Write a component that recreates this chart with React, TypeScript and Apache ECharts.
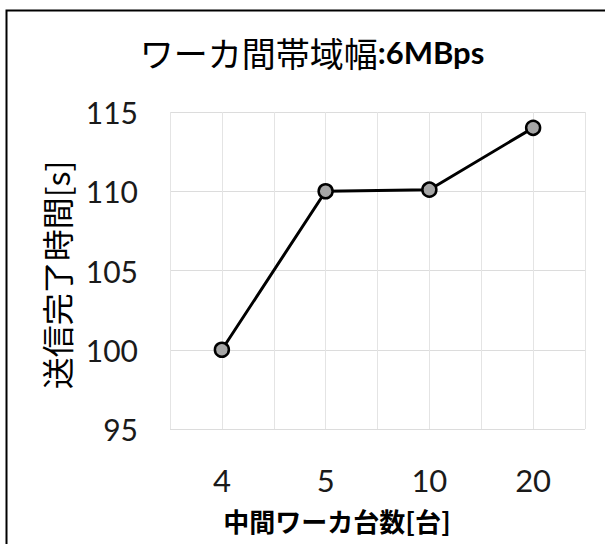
import React, { useEffect, useRef } from "react";
import * as echarts from "echarts";

const titleMain = "ワーカ間帯域幅";
const titleSub = ":6MBps";
const categories = ["4", "5", "10", "20"];
const values = [100, 110, 110.1, 114];
const yTicks = [95, 100, 105, 110, 115];
const yName = "送信完了時間[s]";
const xName = "中間ワーカ台数[台]";

export default function App() {
  const ref = useRef<HTMLDivElement>(null);
  useEffect(() => {
    document.body.style.margin = "0";
    const chart = echarts.init(ref.current!, null, { renderer: "svg" });
    const labelColor = "#1a1a1a";
    chart.setOption({
      animation: false,
      backgroundColor: "#ffffff",
      title: {
        text: `{a|${titleMain}}{b|${titleSub}}`,
        left: 307,
        top: 27,
        textAlign: "center",
        textStyle: {
          fontWeight: "normal",
          rich: {
            a: { fontFamily: "Noto Sans CJK JP", fontSize: 34, fontWeight: "normal", color: "#000", lineHeight: 40 },
            b: { fontFamily: "Lato", fontSize: 31, fontWeight: "bold", color: "#000", lineHeight: 40 },
          },
        },
      },
      grid: { left: 170, right: 20, top: 112, bottom: 115 },
      xAxis: [
        {
          type: "category",
          data: categories,
          boundaryGap: true,
          axisLine: { show: false },
          axisTick: { show: false },
          splitLine: { show: false },
          axisLabel: {
            margin: 35,
            fontFamily: "Lato",
            fontSize: 31,
            color: labelColor,
          },
        },
        {
          type: "value",
          min: 0,
          max: 8,
          interval: 1,
          position: "top",
          axisLine: { show: false },
          axisTick: { show: false },
          axisLabel: { show: false },
          splitLine: { show: true, lineStyle: { color: "#e4e4e4", width: 1 } },
        },
      ],
      yAxis: {
        type: "value",
        min: yTicks[0],
        max: yTicks[yTicks.length - 1],
        interval: 5,
        axisLine: { show: false },
        axisTick: { show: false },
        splitLine: { show: true, lineStyle: { color: "#dcdcdc", width: 1 } },
        axisLabel: {
          margin: 32,
          fontFamily: "Lato",
          fontSize: 30,
          color: labelColor,
        },
      },
      series: [
        {
          type: "line",
          xAxisIndex: 0,
          data: values,
          symbol: "circle",
          symbolSize: 14,
          lineStyle: { color: "#000", width: 3 },
          itemStyle: { color: "#a6a6a6", borderColor: "#000", borderWidth: 2.5 },
        },
      ],
      graphic: [
        {
          type: "rect",
          shape: { x: 6.5, y: 10.5, width: 700, height: 700 },
          style: { fill: "none", stroke: "#000", lineWidth: 2 },
          silent: true,
        },
        {
          type: "text",
          x: 56,
          y: 275,
          rotation: Math.PI / 2,
          style: {
            text: yName,
            fontFamily: "Noto Sans CJK JP",
            fontSize: 32,
            fontWeight: "normal",
            fill: "#000",
            align: "center",
            verticalAlign: "middle",
          },
        },
        {
          type: "text",
          x: 337,
          y: 520,
          style: {
            text: xName,
            fontFamily: "Noto Sans CJK JP",
            fontSize: 26,
            fontWeight: "bold",
            fill: "#000",
            align: "center",
            verticalAlign: "middle",
          },
        },
      ],
    });
    return () => chart.dispose();
  }, []);
  return <div ref={ref} style={{ width: 605, height: 544 }} />;
}
